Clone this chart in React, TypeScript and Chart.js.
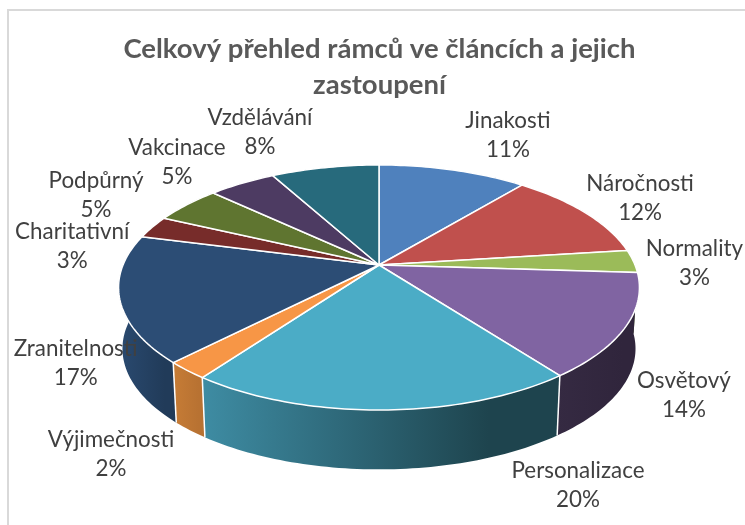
import React, { useEffect, useRef } from "react";
import { Chart, registerables } from "chart.js";

Chart.register(...registerables);

const titleLines = ["Celkový přehled rámců ve článcích a jejich", "zastoupení"];
const categories = ["Jinakosti", "Náročnosti", "Normality", "Osvětový", "Personalizace", "Výjimečnosti", "Zranitelnosti", "Charitativní", "Podpůrný", "Vakcinace", "Vzdělávání"];
const shares = [11, 12, 3, 13.7, 20.3, 2.3, 16.7, 3, 5, 5, 8];

const topColors = ["#4f81bd", "#c0504d", "#9bbb59", "#8064a2", "#4bacc6", "#f79646", "#2c4d75", "#772c2a", "#5f7530", "#4d3b62", "#276a7c"];
const wallFrom = ["#3b618e", "#90403c", "#748c43", "#352a42", "#3e8ca3", "#c67c36", "#2a4a70", "#5a2120", "#475824", "#3a2c4a", "#1d505e"];
const wallTo = ["#2f4d71", "#733230", "#5d7036", "#30253c", "#1e444e", "#b87232", "#213b59", "#481a19", "#38461d", "#2e233b", "#17404b"];

// Where each label sits relative to the outer rim at the middle of its slice.
const labelOffsetX = [55, 55, 61, 58, 196, -76, -44, -80, -91, -65, -65];
const labelOffsetY = [-35, -15, 1, 68, 74.5, 83, 64, 19, -10, -22, -36];

// Tilted-disc projection of the pie.
const CX = 379;
const CY = 265;
const RX = 256;
const RY = 118.4;
const K = 0.1837;
const DEPTH = 61.5;
const BOTTOM_SCALE = 0.985;

function top(theta: number): [number, number] {
  const u = Math.sin(theta);
  const v = -Math.cos(theta);
  const w = 1 - K * v;
  return [CX + (RX * u) / w, CY + (RY * v) / w];
}
function bottom(theta: number): [number, number] {
  const u = Math.sin(theta);
  const v = -Math.cos(theta);
  const w = 1 - K * v;
  return [CX + (BOTTOM_SCALE * RX * u) / w, CY + DEPTH + (BOTTOM_SCALE * RY * v) / w];
}

function angles(el: any): [number, number] {
  const { startAngle, endAngle } = el.getProps(["startAngle", "endAngle"], true);
  return [startAngle + Math.PI / 2, endAngle + Math.PI / 2];
}
function samples(a: number, b: number): number[] {
  const n = Math.max(4, Math.ceil((b - a) / 0.02));
  const out: number[] = [];
  for (let i = 0; i <= n; i++) out.push(a + ((b - a) * i) / n);
  return out;
}

const frame3d = {
  id: "frame3d",
  beforeDraw(chart: any) {
    const c = chart.ctx;
    c.save();
    c.fillStyle = "#ffffff";
    c.fillRect(0, 0, chart.width, chart.height);
    c.strokeStyle = "#d9d9d9";
    c.lineWidth = 2;
    c.beginPath();
    c.moveTo(8, chart.height);
    c.lineTo(8, 10);
    c.lineTo(chart.width, 10);
    c.stroke();
    c.restore();
  },
  beforeDatasetsDraw(chart: any) {
    const c = chart.ctx;
    const arcs = chart.getDatasetMeta(0).data;
    c.save();
    c.lineJoin = "round";

    // Side walls, drawn first so the top disc hides the back part.
    arcs.forEach((el: any, i: number) => {
      const [a, b] = angles(el);
      const pts = samples(a, b);
      const tops = pts.map(top);
      const bots = pts.map(bottom);
      const xs = tops.concat(bots).map((p) => p[0]);
      const g = c.createLinearGradient(Math.min(...xs), 0, Math.max(...xs), 0);
      g.addColorStop(0, wallFrom[i]);
      g.addColorStop(0.8, wallTo[i]);
      g.addColorStop(1, wallTo[i]);
      c.fillStyle = g;
      c.beginPath();
      tops.forEach((p, j) => (j ? c.lineTo(p[0], p[1]) : c.moveTo(p[0], p[1])));
      bots.reverse().forEach((p) => c.lineTo(p[0], p[1]));
      c.closePath();
      c.fill();
    });
    // White seams between the front walls.
    arcs.forEach((el: any) => {
      const [a] = angles(el);
      if (-Math.cos(a) < 0.1) return;
      const t = top(a);
      const d = bottom(a);
      c.strokeStyle = "#ffffff";
      c.lineWidth = 1.5;
      c.beginPath();
      c.moveTo(t[0], t[1]);
      c.lineTo(d[0], d[1]);
      c.stroke();
    });

    // Top disc.
    arcs.forEach((el: any, i: number) => {
      const [a, b] = angles(el);
      c.fillStyle = topColors[i];
      c.strokeStyle = "#ffffff";
      c.lineWidth = 1.5;
      c.beginPath();
      c.moveTo(CX, CY);
      samples(a, b).forEach((t) => {
        const p = top(t);
        c.lineTo(p[0], p[1]);
      });
      c.closePath();
      c.fill();
      c.stroke();
    });

    // Data labels.
    const total = shares.reduce((s, v) => s + v, 0);
    c.fillStyle = "#404040";
    c.font = "400 22.4px Lato";
    c.textAlign = "center";
    c.textBaseline = "middle";
    arcs.forEach((el: any, i: number) => {
      const [a, b] = angles(el);
      const rim = top((a + b) / 2);
      const x = rim[0] + labelOffsetX[i];
      const y = rim[1] + labelOffsetY[i];
      c.fillText(categories[i], x, y - 14);
      c.fillText(Math.round((shares[i] / total) * 100) + "%", x, y + 15);
    });
    c.restore();
    return false;
  },
};

export default function App() {
  const ref = useRef<HTMLCanvasElement | null>(null);
  useEffect(() => {
    document.body.style.margin = "0";
    const chart = new Chart(ref.current as HTMLCanvasElement, {
      type: "pie",
      data: {
        labels: categories,
        datasets: [{ data: shares, backgroundColor: topColors, borderColor: "#ffffff", borderWidth: 1.5 }],
      },
      options: {
        responsive: false,
        animation: false,
        rotation: 0,
        layout: { padding: { left: 14, top: 32 } },
        plugins: {
          legend: { display: false },
          tooltip: { enabled: false },
          title: {
            display: true,
            text: titleLines,
            color: "#595959",
            font: { family: "Lato", size: 27.5, weight: "bold", lineHeight: 1.28 },
            padding: 0,
          },
        },
      },
      plugins: [frame3d],
    } as any);
    return () => chart.destroy();
  }, []);
  return <canvas ref={ref} width={745} height={525} style={{ display: "block" }} />;
}
